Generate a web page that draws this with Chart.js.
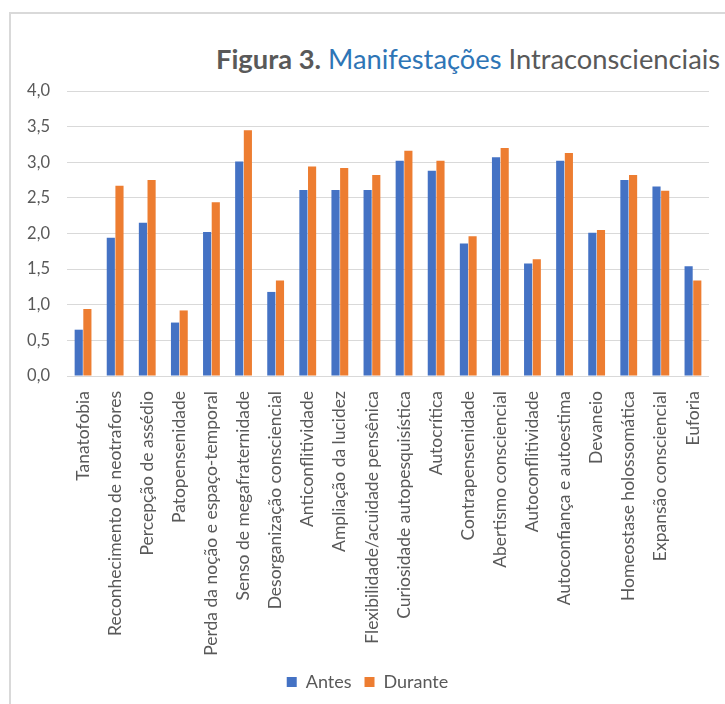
<!DOCTYPE html>
<html>
<head>
<meta charset="utf-8">
<script src="https://cdn.jsdelivr.net/npm/chart.js@4.4.1/dist/chart.umd.min.js"></script>
<style>
    html, body { margin: 0; padding: 0; background: #fff; }
    #wrap { position: relative; width: 725px; height: 704px; overflow: hidden; }
    #frame {
        position: absolute; left: 9px; top: 12px; width: 760px; height: 760px;
        border-left: 2px solid #d9d9d9; border-top: 2px solid #d9d9d9;
    }
    #title {
        position: absolute; left: 216px; top: 42px; white-space: nowrap;
        font-family: Lato, sans-serif; font-size: 27.3px; color: #595959;
    }
    #title b { font-weight: 700; }
    #title .blue { color: #2e75b6; }
    canvas { position: absolute; left: 0; top: 0; }
</style>
</head>
<body>
<div id="wrap">
    <div id="frame"></div>
    <div id="title"><b>Figura 3.</b> <span class="blue">Manifestações</span> Intraconscienciais</div>
    <canvas id="chart" width="725" height="704"></canvas>
</div>
<script>
// ─── Data ─────────────────────────────────────────────

const categories = [
    'Tanatofobia',
    'Reconhecimento de neotrafores',
    'Percepção de assédio',
    'Patopensenidade',
    'Perda da noção e espaço-temporal',
    'Senso de megafraternidade',
    'Desorganização consciencial',
    'Anticonflitividade',
    'Ampliação da lucidez',
    'Flexibilidade/acuidade pensênica',
    'Curiosidade autopesquisística',
    'Autocrítica',
    'Contrapensenidade',
    'Abertismo consciencial',
    'Autoconflitividade',
    'Autoconfiança e autoestima',
    'Devaneio',
    'Homeostase holossomática',
    'Expansão consciencial',
    'Euforia',
];

const antes   = [0.65, 1.94, 2.15, 0.75, 2.02, 3.01, 1.18, 2.61, 2.61, 2.61, 3.02, 2.88, 1.86, 3.07, 1.58, 3.02, 2.01, 2.75, 2.66, 1.54];
const durante = [0.94, 2.67, 2.75, 0.92, 2.44, 3.45, 1.34, 2.94, 2.92, 2.82, 3.16, 3.02, 1.96, 3.20, 1.64, 3.13, 2.05, 2.82, 2.60, 1.34];

const seriesNames = ['Antes', 'Durante'];

// ─── Chart ────────────────────────────────────────────

const TEXT = '#595959';
const GRID = '#d9d9d9';

new Chart(document.getElementById('chart').getContext('2d'), {
    type: 'bar',
    data: {
        labels: categories,
        datasets: [
            { label: seriesNames[0], data: antes,   backgroundColor: '#4472c4' },
            { label: seriesNames[1], data: durante, backgroundColor: '#ed7d31' },
        ],
    },
    options: {
        responsive: false,
        animation: false,
        // some left padding nudges the legend centre to the right, like the original
        layout: { padding: { left: 26, top: 91, right: 16, bottom: 3 } },
        datasets: { bar: { categoryPercentage: 0.54, barPercentage: 0.94 } },
        plugins: {
            legend: {
                position: 'bottom',
                labels: {
                    boxWidth: 10, boxHeight: 10, padding: 13,
                    color: TEXT,
                    font: { family: 'Lato, sans-serif', size: 18 },
                },
            },
            tooltip: { enabled: false },
        },
        scales: {
            x: {
                grid: { display: false },
                border: { display: false },
                ticks: {
                    autoSkip: false, minRotation: 90, maxRotation: 90, padding: 7,
                    color: TEXT,
                    font: { family: 'Lato, sans-serif', size: 17.5 },
                },
                afterFit: s => { s.height = 284; },
            },
            y: {
                min: 0, max: 4,
                grid: { color: GRID, lineWidth: 1, drawTicks: false },
                border: { display: false },
                ticks: {
                    stepSize: 0.5, padding: 17,
                    color: TEXT,
                    font: { family: 'Lato, sans-serif', size: 16.5 },
                    callback: v => v.toFixed(1).replace('.', ','),
                },
                afterFit: s => { s.width = 41; },
            },
        },
    },
});
</script>
</body>
</html>
